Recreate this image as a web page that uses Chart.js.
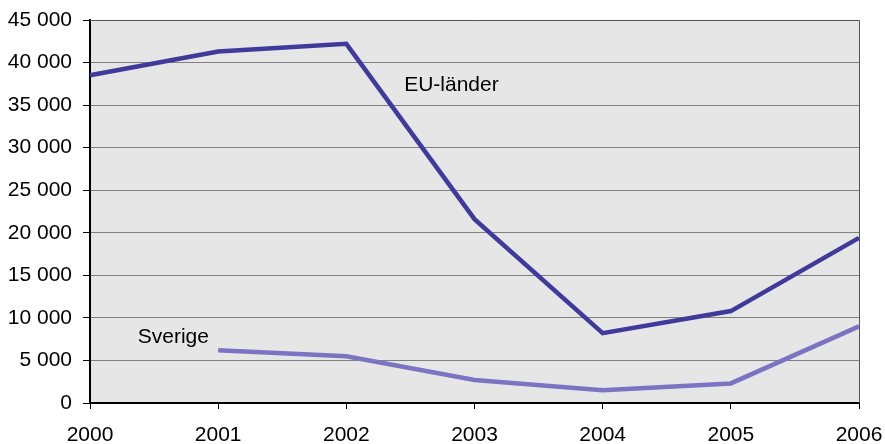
<!DOCTYPE html>
<html>
<head>
<meta charset="utf-8">
<script src="https://cdn.jsdelivr.net/npm/chart.js@4"></script>
<style>
  html, body { margin: 0; padding: 0; background: #fff; }
  #wrap { width: 885px; height: 444px; }
</style>
</head>
<body>
<div id="wrap"><canvas id="grafik" width="885" height="444"></canvas></div>
<script>
// Data
const years = ['2000', '2001', '2002', '2003', '2004', '2005', '2006'];
const euLander = [38500, 41300, 42200, 21600, 8200, 10800, 19400];
const sverige = [null, 6200, 5500, 2700, 1500, 2300, 9000];
const yMax = 45000;
const yStep = 5000;

// Etiketter vid linjerna (x = kategoriindex, y = värde)
const seriesLabels = [
  { text: 'EU-länder', x: 2.82, y: 37300 },
  { text: 'Sverige', x: 0.65, y: 7700 }
];

const fontFamily = '"Liberation Sans", Arial, sans-serif';

const plotBakgrund = {
  id: 'plotBakgrund',
  beforeDraw(chart) {
    const { ctx, chartArea: a } = chart;
    ctx.save();
    ctx.fillStyle = '#e6e6e6';
    ctx.fillRect(a.left, a.top, a.right - a.left, a.bottom - a.top);
    ctx.restore();
  },
  afterDatasetsDraw(chart) {
    const { ctx, chartArea: a, scales } = chart;
    ctx.save();
    ctx.strokeStyle = '#555';
    ctx.lineWidth = 1;
    ctx.beginPath();
    ctx.moveTo(a.left, a.top + 0.5);
    ctx.lineTo(a.right + 0.5, a.top + 0.5);
    ctx.lineTo(a.right + 0.5, a.bottom);
    ctx.stroke();
    ctx.fillStyle = '#000';
    ctx.font = '21px ' + fontFamily;
    ctx.textAlign = 'center';
    ctx.textBaseline = 'middle';
    seriesLabels.forEach(l => {
      ctx.fillText(l.text, scales.x.getPixelForValue(l.x), scales.y.getPixelForValue(l.y));
    });
    ctx.restore();
  }
};

const ctx = document.getElementById('grafik').getContext('2d');
new Chart(ctx, {
  type: 'line',
  data: {
    labels: years,
    datasets: [{
      label: 'EU-länder',
      data: euLander,
      borderColor: '#3f3a9c',
      borderWidth: 4.5,
      pointRadius: 0,
      tension: 0
    }, {
      label: 'Sverige',
      data: sverige,
      borderColor: '#7c74c2',
      borderWidth: 4.5,
      pointRadius: 0,
      tension: 0
    }]
  },
  options: {
    responsive: false,
    animation: false,
    layout: { padding: { top: 20, right: 26, left: 0, bottom: 0 } },
    plugins: { legend: { display: false }, tooltip: { enabled: false } },
    scales: {
      x: {
        offset: false,
        grid: { drawOnChartArea: false, drawTicks: true, tickLength: 6, color: '#000' },
        border: { color: '#000', width: 2 },
        ticks: {
          color: '#000',
          padding: 14,
          maxRotation: 0,
          autoSkip: false,
          font: { family: fontFamily, size: 21 }
        },
        afterFit: s => { s.height = 41; s.paddingLeft = 0; s.paddingRight = 0; }
      },
      y: {
        min: 0,
        max: yMax,
        grid: { color: '#808080', lineWidth: 1, tickLength: 7, tickColor: '#000' },
        border: { color: '#000', width: 2 },
        ticks: {
          stepSize: yStep,
          color: '#000',
          padding: 11,
          font: { family: fontFamily, size: 21 },
          callback: v => String(v).replace(/\B(?=(\d{3})+(?!\d))/g, ' ')
        },
        afterFit: s => { s.width = 90; s.paddingTop = 0; s.paddingBottom = 0; }
      }
    }
  },
  plugins: [plotBakgrund]
});
</script>
</body>
</html>
